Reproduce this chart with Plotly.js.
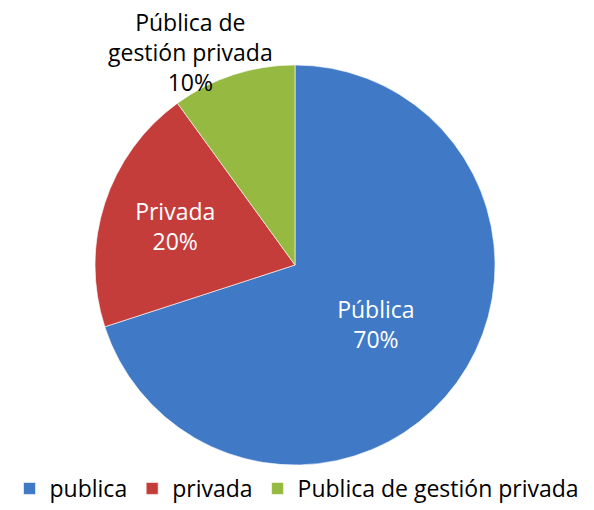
<!DOCTYPE html>
<html><head><meta charset="utf-8">
<script src="https://cdn.plot.ly/plotly-3.0.1.min.js"></script>
<style>html,body{margin:0;padding:0;background:#fff}#c{width:594px;height:510px}</style>
</head><body><div id="c"></div>
<script>
const legendNames = ["publica", "privada", "Publica de gestión privada"];
const sliceLabels = ["Pública", "Privada", "Pública de gestión privada"];
const values = [70, 20, 10];
const colors = ["#4079C6", "#C43D3A", "#95B941"];

const total = values.reduce((a, b) => a + b, 0);
const greenText = sliceLabels[2].replace(" gestión", "<br>gestión") + "<br>" +
  Math.round(values[2] / total * 100) + "%";

const trace = {
  type: "pie",
  labels: legendNames,
  values: values,
  text: sliceLabels,
  texttemplate: "%{text}<br>%{percent:.0%}",
  textposition: ["inside", "inside", "none"],
  insidetextorientation: "horizontal",
  insidetextfont: {color: "#ffffff", size: 23},
  sort: false,
  direction: "clockwise",
  rotation: 0,
  marker: {colors: colors, line: {color: "rgba(255,255,255,0.6)", width: 1}},
  domain: {x: [95/594, 495/594], y: [1 - 465/510, 1 - 65/510]},
  hoverinfo: "none"
};

const layout = {
  width: 594, height: 510,
  margin: {l: 0, r: 0, t: 0, b: 0},
  paper_bgcolor: "#ffffff",
  font: {family: "Open Sans, Noto Sans, sans-serif", size: 22, color: "#000"},
  showlegend: true,
  legend: {orientation: "h", x: 0.5, xanchor: "center", y: 0.0, yanchor: "bottom",
           font: {size: 23}, itemwidth: 20, tracegroupgap: 0},
  annotations: [{
    text: greenText, showarrow: false, xref: "paper", yref: "paper",
    x: 190/594, y: 1 - 52/510, xanchor: "center", yanchor: "middle",
    align: "center", font: {size: 23, color: "#000"}
  }]
};
Plotly.newPlot("c", [trace], layout, {displayModeBar: false, staticPlot: true});
</script></body></html>
